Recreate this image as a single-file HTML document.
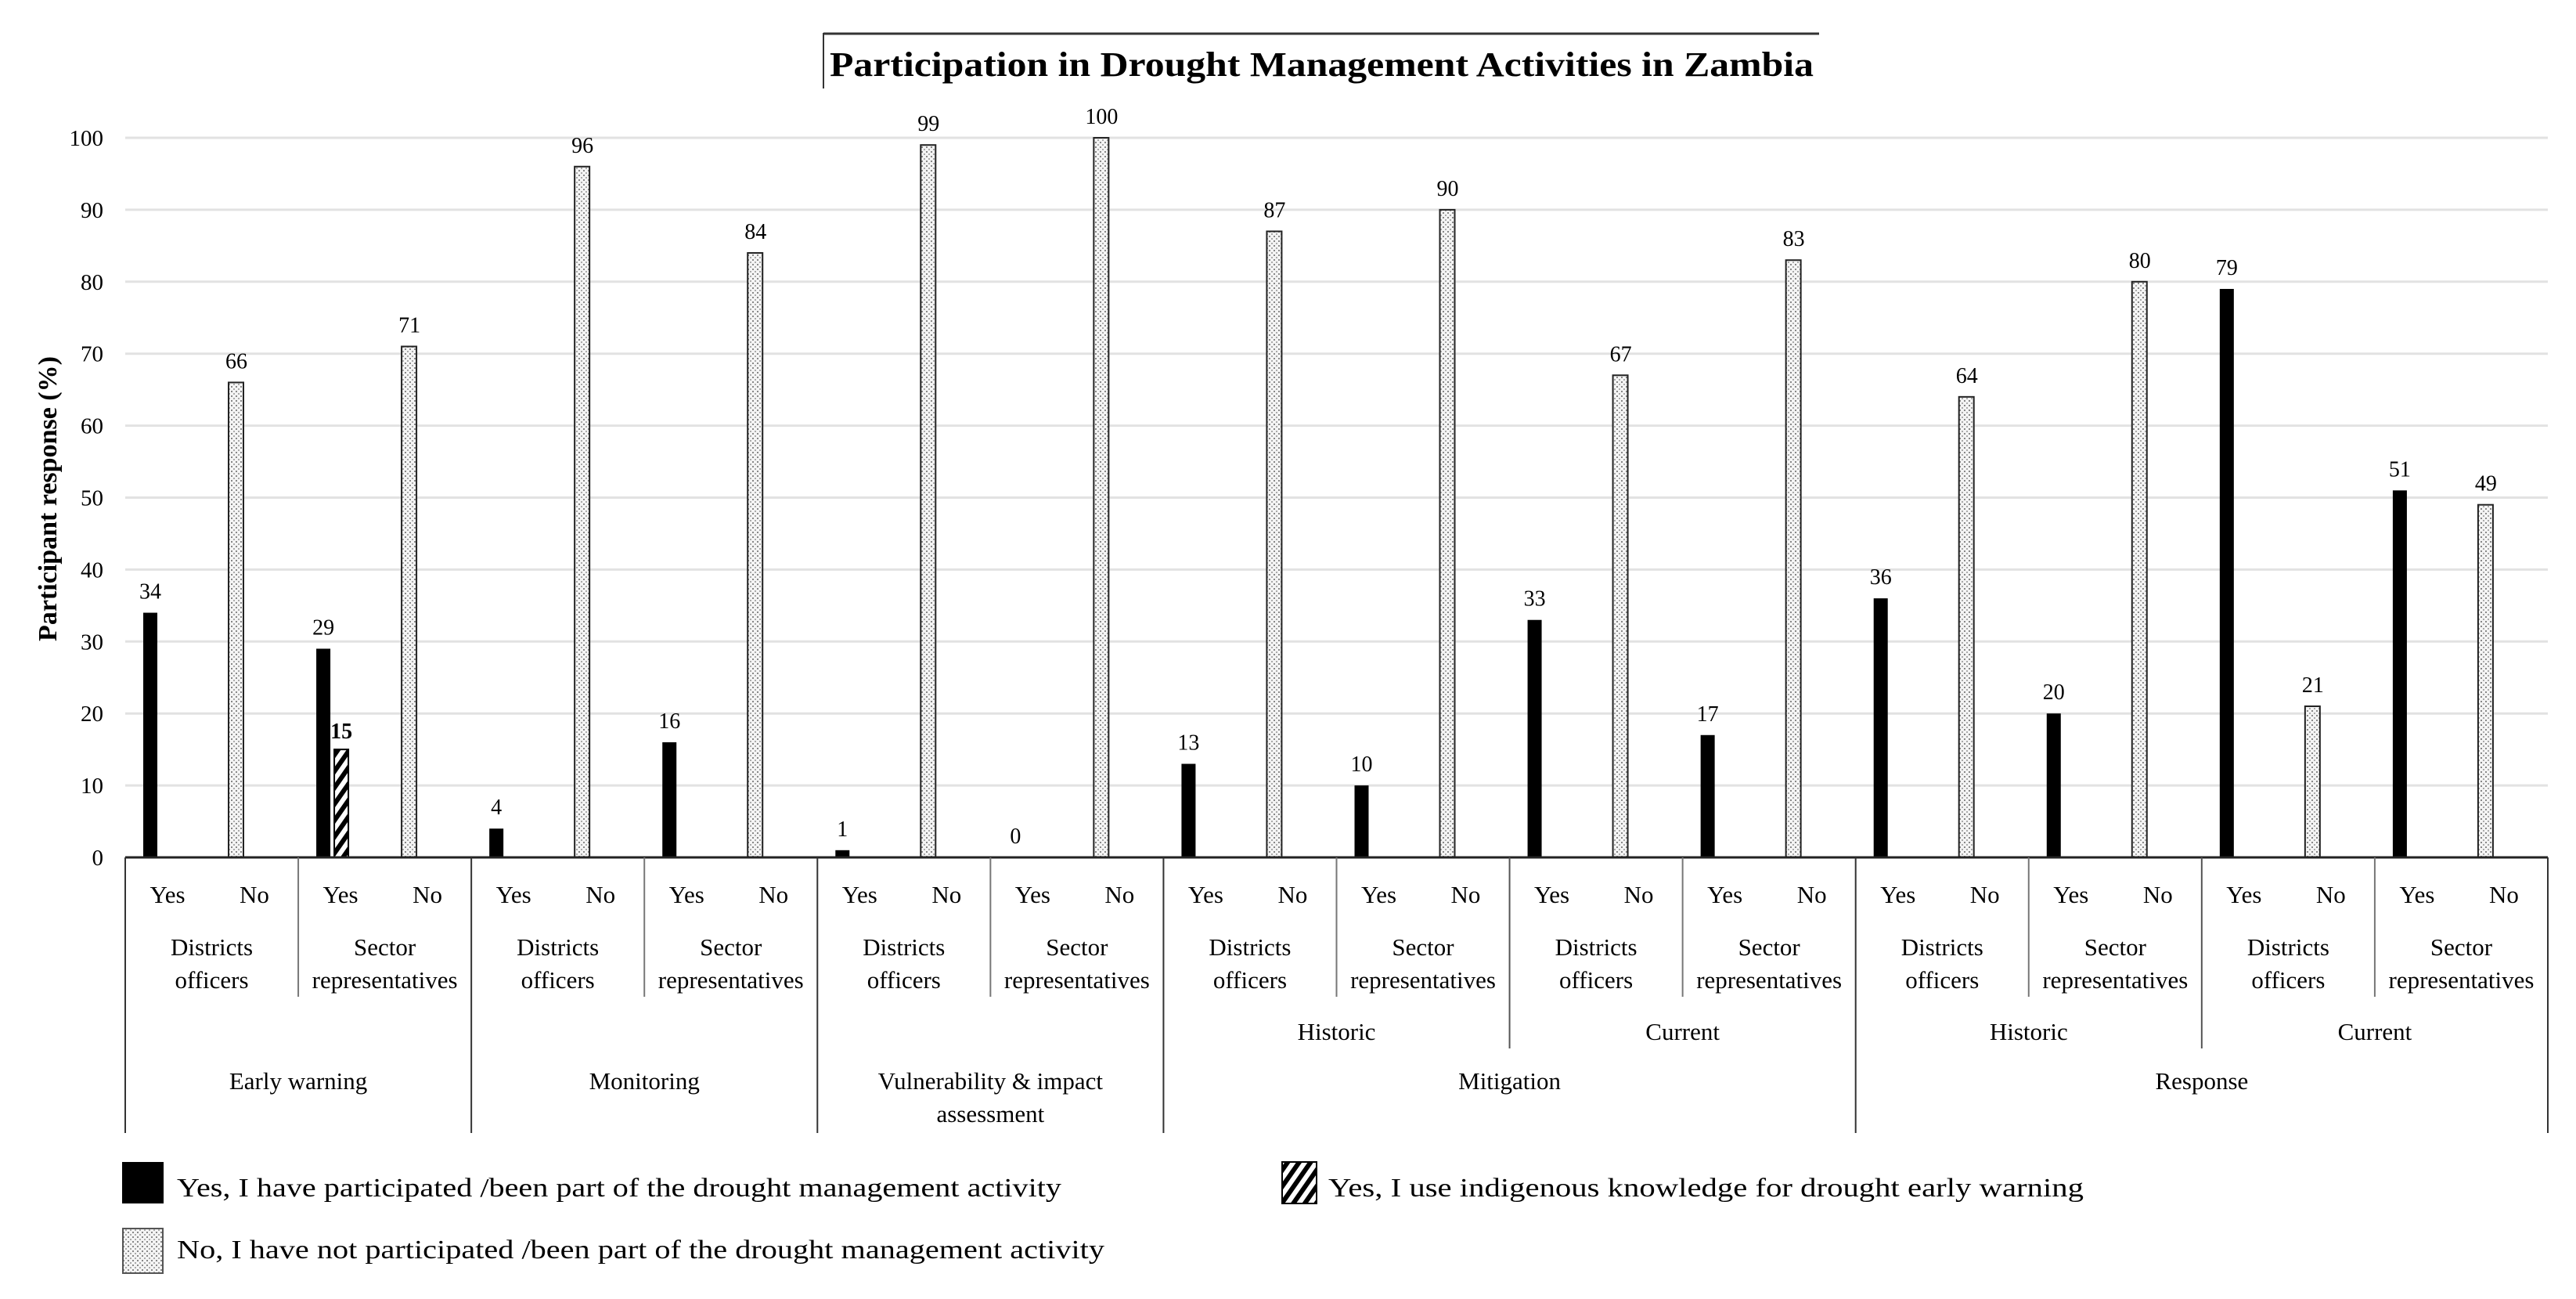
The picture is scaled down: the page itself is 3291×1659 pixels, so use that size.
<!DOCTYPE html>
<html><head><meta charset="utf-8"><style>
html,body{margin:0;padding:0;background:#fff;}
svg{display:block;font-family:"Liberation Serif",serif;}
</style></head><body>
<svg id="chart" width="3291" height="1659" viewBox="0 0 3291 1659" xmlns="http://www.w3.org/2000/svg">
<defs>
<pattern id="dots" width="6" height="6" patternUnits="userSpaceOnUse">
<rect width="6" height="6" fill="#f4f4f4"/>
<rect x="1" y="1" width="2" height="2" fill="#888"/>
<rect x="4" y="4" width="2" height="2" fill="#aaa"/>
</pattern>
<pattern id="hatch" width="12" height="12" patternUnits="userSpaceOnUse" patternTransform="rotate(35)">
<rect width="12" height="12" fill="#fff"/>
<rect width="6" height="12" fill="#000"/>
</pattern>
</defs>
<g>
<line x1="1052" y1="43" x2="2324" y2="43" stroke="#333" stroke-width="3"/>
<line x1="1052" y1="42" x2="1052" y2="113" stroke="#333" stroke-width="2"/>
<text x="1060" y="97" font-size="44" font-weight="bold" textLength="1257" lengthAdjust="spacingAndGlyphs">Participation in Drought Management Activities in Zambia</text>
</g>
<text transform="translate(72,637) rotate(-90)" text-anchor="middle" font-size="34" font-weight="bold">Participant response (%)</text>
<g id="grid"></g>
<g id="bars"></g>
<g id="xaxis"></g>
<g>
<g>
<rect x="156" y="1484" width="53" height="53" fill="#000"/>
<text x="226" y="1528" font-size="34" textLength="1130" lengthAdjust="spacingAndGlyphs">Yes, I have participated /been part of the drought management activity</text>
</g>
<g>
<rect x="157" y="1569" width="51" height="57" fill="url(#dots)" stroke="#555" stroke-width="2"/>
<text x="226" y="1607" font-size="34" textLength="1185" lengthAdjust="spacingAndGlyphs">No, I have not participated /been part of the drought management activity</text>
</g>
<g>
<rect x="1638" y="1484" width="44" height="53" fill="url(#hatch)" stroke="#000" stroke-width="2"/>
<text x="1697" y="1528" font-size="34" textLength="965" lengthAdjust="spacingAndGlyphs">Yes, I use indigenous knowledge for drought early warning</text>
</g>
</g>
</svg>
<script>
const yesValues = [34, 29, 4, 16, 1, 0, 13, 10, 33, 17, 36, 20, 79, 51];
const noValues = [66, 71, 96, 84, 99, 100, 87, 90, 67, 83, 64, 80, 21, 49];
const indigenousValues = [null, 15, null, null, null, null, null, null, null, null, null, null, null, null];
const subgroupLabels = ["Districts|officers", "Sector|representatives"];
const midGroups = [{label:"Historic", start:6, end:8}, {label:"Current", start:8, end:10}, {label:"Historic", start:10, end:12}, {label:"Current", start:12, end:14}];
const topGroups = [{label:"Early warning", start:0, end:2}, {label:"Monitoring", start:2, end:4}, {label:"Vulnerability & impact|assessment", start:4, end:6}, {label:"Mitigation", start:6, end:10}, {label:"Response", start:10, end:14}];
const yTicks = [0, 10, 20, 30, 40, 50, 60, 70, 80, 90, 100];

const NS = "http://www.w3.org/2000/svg";
const X0 = 160, X1 = 3255, Y0 = 1095, Y100 = 176;
const N = yesValues.length;
const SW = (X1 - X0) / N;
const yScale = v => Y0 - (Y0 - Y100) * v / 100;
const xSub = i => X0 + i * SW;
function mk(tag, attrs, parent, text) {
  const e = document.createElementNS(NS, tag);
  for (const k in attrs) e.setAttribute(k, attrs[k]);
  if (text !== undefined) e.textContent = text;
  parent.appendChild(e);
  return e;
}
const grid = document.getElementById('grid');
yTicks.forEach(t => {
  const y = yScale(t);
  if (t > 0) {
    const gl = mk('line', {x1: X0, x2: X1, y1: y, y2: y, stroke: '#e2e2e2', 'stroke-width': 3}, grid);
    
    
  }
  const tl = mk('text', {x: 132, y: y + 10, 'text-anchor': 'end', 'font-size': 29}, grid, String(t));
  
  
});
const bars = document.getElementById('bars');
for (let i = 0; i < N; i++) {
  const sx = xSub(i);
  const yx = sx + 23;
  const yb = mk('rect', {x: yx, y: yScale(yesValues[i]), width: 18, height: Y0 - yScale(yesValues[i]), fill: '#000'}, bars);
  
  
  const yl = mk('text', {x: yx + 9, y: yScale(yesValues[i]) - 18, 'text-anchor': 'middle', 'font-size': 28}, bars, String(yesValues[i]));
  
  
  if (indigenousValues[i] !== null) {
    const hx = sx + 46;
    const hb = mk('rect', {x: hx, y: yScale(indigenousValues[i]), width: 18, height: Y0 - yScale(indigenousValues[i]), fill: 'url(#hatch)', stroke: '#000', 'stroke-width': 2}, bars);
    
    
    const hl = mk('text', {x: hx + 9, y: yScale(indigenousValues[i]) - 14, 'text-anchor': 'middle', 'font-size': 28, 'font-weight': 'bold'}, bars, String(indigenousValues[i]));
    
    
  }
  const nx = sx + 132;
  const nb = mk('rect', {x: nx, y: yScale(noValues[i]), width: 19, height: Y0 - yScale(noValues[i]), fill: 'url(#dots)', stroke: '#222', 'stroke-width': 2}, bars);
  
  
  const nl = mk('text', {x: nx + 10, y: yScale(noValues[i]) - 18, 'text-anchor': 'middle', 'font-size': 28}, bars, String(noValues[i]));
  
  
}
const ax = document.getElementById('xaxis');
const base = mk('line', {x1: X0, x2: X1, y1: Y0, y2: Y0, stroke: '#222', 'stroke-width': 3}, ax);


for (let b = 0; b <= N; b++) {
  let y2 = 1273, col = '#777';
  if (topGroups.some(g => g.start === b || g.end === b)) { y2 = 1447; col = '#333'; }
  else if (midGroups.some(g => g.start === b || g.end === b)) { y2 = 1339; col = '#555'; }
  const sl = mk('line', {x1: xSub(b), x2: xSub(b), y1: Y0, y2: y2, stroke: col, 'stroke-width': 2}, ax);
  
  
}
for (let i = 0; i < N; i++) {
  const sx = xSub(i);
  const t1 = mk('text', {x: sx + 54, y: 1153, 'text-anchor': 'middle', 'font-size': 31}, ax, 'Yes');
  
  
  const t2 = mk('text', {x: sx + 165, y: 1153, 'text-anchor': 'middle', 'font-size': 31}, ax, 'No');
  
  
  const parts = subgroupLabels[i % 2].split('|');
  parts.forEach((p, k) => {
    const t = mk('text', {x: sx + SW / 2, y: 1220 + k * 42, 'text-anchor': 'middle', 'font-size': 31}, ax, p);
    
    
  });
}
midGroups.forEach((g, j) => {
  const t = mk('text', {x: (xSub(g.start) + xSub(g.end)) / 2, y: 1328, 'text-anchor': 'middle', 'font-size': 31}, ax, g.label);
  
  
});
topGroups.forEach((g, j) => {
  g.label.split('|').forEach((p, k) => {
    const t = mk('text', {x: (xSub(g.start) + xSub(g.end)) / 2, y: 1391 + k * 42, 'text-anchor': 'middle', 'font-size': 31}, ax, p);
    
    
  });
});
</script>
</body></html>
